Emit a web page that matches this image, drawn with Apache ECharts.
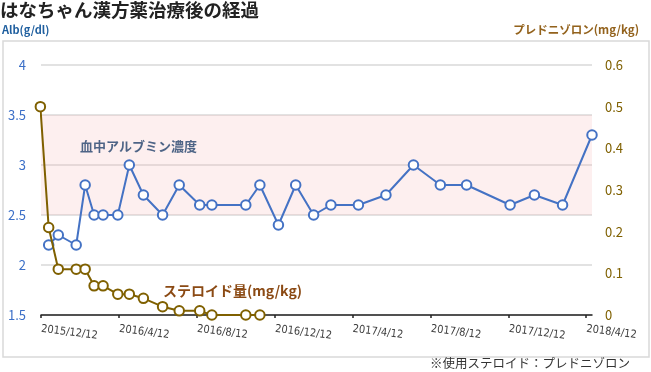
<!DOCTYPE html>
<html>
<head>
<meta charset="utf-8">
<script src="https://cdn.jsdelivr.net/npm/echarts@6/dist/echarts.min.js"></script>
<style>
html,body{margin:0;padding:0;background:#fff;}
#chart{width:651px;height:372px;}
</style>
</head>
<body>
<div id="chart"></div>
<script>
// ---- data ----
const steroidDates = ['2015-12-11','2015-12-24','2016-01-08','2016-02-05','2016-02-19','2016-03-04','2016-03-18','2016-04-10','2016-04-28','2016-05-20','2016-06-19','2016-07-15','2016-08-16','2016-09-04','2016-10-27','2016-11-18'];
const steroidValues = [0.5,0.21,0.11,0.11,0.11,0.07,0.07,0.05,0.05,0.04,0.02,0.01,0.01,0,0,0];
const albDates = ['2015-12-24','2016-01-08','2016-02-05','2016-02-19','2016-03-04','2016-03-18','2016-04-10','2016-04-28','2016-05-20','2016-06-19','2016-07-15','2016-08-16','2016-09-04','2016-10-27','2016-11-18','2016-12-17','2017-01-13','2017-02-10','2017-03-09','2017-04-21','2017-06-03','2017-07-16','2017-08-27','2017-10-07','2017-12-14','2018-01-21','2018-03-06','2018-04-21'];
const albValues = [2.2,2.3,2.2,2.8,2.5,2.5,2.5,3.0,2.7,2.5,2.8,2.6,2.6,2.6,2.8,2.4,2.8,2.5,2.6,2.6,2.7,3.0,2.8,2.8,2.6,2.7,2.6,3.3];
const xTickDates = ['2015-12-12','2016-04-12','2016-08-12','2016-12-12','2017-04-12','2017-08-12','2017-12-12','2018-04-12'];
const xRange = ['2015-12-12','2018-04-21'];
const normalRange = [2.5, 3.5];
const normalBandDates = ['2015-12-04','2018-05-07'];
const leftTicks = [1.5, 4, 0.5];
const rightTicks = [0, 0.6, 0.1];

function ts(s){const p=s.split('-').map(Number);return Date.UTC(p[0],p[1]-1,p[2]);}
function fmt(v){const d=new Date(v);return d.getUTCFullYear()+'/'+(d.getUTCMonth()+1)+'/'+d.getUTCDate();}

const chart = echarts.init(document.getElementById('chart'));
const jp = '"Noto Sans CJK JP", "Noto Sans", sans-serif';
chart.setOption({
  animation:false,
  backgroundColor:'#fff',
  graphic:[
    {type:'rect',shape:{x:3,y:41,width:646,height:316},style:{fill:'none',stroke:'#d9d9d9',lineWidth:1.5},z:-10},
    {type:'text',left:0,top:1,style:{text:'はなちゃん漢方薬治療後の経過',font:'bold 18.5px '+jp,fill:'#222'}},
    {type:'text',left:2,top:24,style:{text:'Alb(g/dl)',font:'bold 11px '+jp,fill:'#1f5f9f'}},
    {type:'text',right:12,top:24,style:{text:'プレドニゾロン(mg/kg)',font:'bold 11.5px '+jp,fill:'#93621c'}},
    {type:'text',left:80,top:140,style:{text:'血中アルブミン濃度',font:'bold 13px '+jp,fill:'#1f4e79'}},
    {type:'text',left:163,top:284,style:{text:'ステロイド量(mg/kg)',font:'bold 14px '+jp,fill:'#8b4a14'}},
    {type:'text',left:430,top:357,style:{text:'※使用ステロイド：プレドニゾロン',font:'12.5px '+jp,fill:'#333'}}
  ],
  grid:{left:41,right:59,top:65,bottom:57,containLabel:false},
  xAxis:{
    type:'value', min:ts(xRange[0]), max:ts(xRange[1]),
    axisLine:{show:true,lineStyle:{color:'#222',width:1.5}},
    axisTick:{show:true,length:3,customValues:xTickDates.map(ts),lineStyle:{color:'#222',width:1.5}},
    splitLine:{show:false},
    axisLabel:{customValues:xTickDates.map(ts),formatter:fmt,rotate:-7,margin:14,fontSize:11,color:'#404040',fontFamily:'"Liberation Sans Narrow", "DejaVu Sans Condensed", sans-serif'}
  },
  yAxis:[
    {type:'value',min:leftTicks[0],max:leftTicks[1],interval:leftTicks[2],
     axisLine:{show:false},axisTick:{show:false},
     splitLine:{show:true,lineStyle:{color:'#d9d9d9',width:1.5}},
     axisLabel:{margin:15,fontSize:13,color:'#3b6fc7',fontFamily:jp}},
    {type:'value',min:rightTicks[0],max:rightTicks[1],interval:rightTicks[2],
     axisLine:{show:false},axisTick:{show:false},splitLine:{show:false},
     axisLabel:{margin:13,fontSize:13,color:'#7f6000',fontFamily:jp}}
  ],
  series:[
    {name:'Alb',type:'line',yAxisIndex:0,
     data:albDates.map((d,i)=>[ts(d),albValues[i]]),
     symbol:'circle',symbolSize:9.5,showAllSymbol:true,clip:false,
     lineStyle:{color:'#4472c4',width:2},
     itemStyle:{color:'#fff',borderColor:'#4472c4',borderWidth:2},
     markArea:{silent:true,itemStyle:{color:'rgba(248,180,180,0.22)'},
       data:[[{xAxis:ts(normalBandDates[0]),yAxis:normalRange[1]},{xAxis:ts(normalBandDates[1]),yAxis:normalRange[0]}]]},
     z:3},
    {name:'steroid',type:'line',yAxisIndex:1,
     data:steroidDates.map((d,i)=>[ts(d),steroidValues[i]]),
     symbol:'circle',symbolSize:9.5,showAllSymbol:true,clip:false,
     lineStyle:{color:'#7f6000',width:2},
     itemStyle:{color:'#fff',borderColor:'#7f6000',borderWidth:2},
     z:4}
  ]
});
</script>
</body>
</html>
